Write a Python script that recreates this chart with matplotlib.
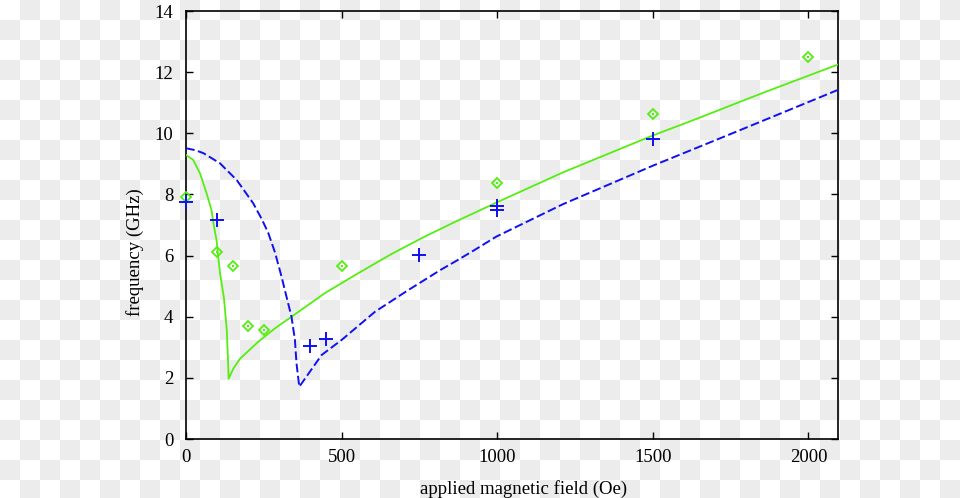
"""
Spin-wave frequency vs applied magnetic field: measured points and model curves.
"""

import numpy as np
import matplotlib
matplotlib.use('Agg')
import matplotlib.pyplot as plt

# model curve 1 (green, solid)
green_line_x = [0, 23, 45, 66, 82, 88, 98, 109, 122, 131, 135, 137,
                152, 173, 232, 286, 339, 446, 553, 660, 767, 864, 1001,
                1211, 1498, 1640, 1853, 2095]
green_line_y = [9.29, 9.13, 8.69, 8.04, 7.49, 7.06, 6.51, 5.45, 4.6, 3.57, 2.58, 1.97,
                2.3, 2.62, 3.18, 3.62, 4.0, 4.77, 5.42, 6.05, 6.62, 7.1, 7.75,
                8.72, 9.92, 10.47, 11.32, 12.25]

# model curve 2 (blue, dashed)
blue_line_x = [0, 29, 56, 109, 163, 216, 243, 264, 286, 307, 323, 339, 350, 355, 364,
               436, 500, 607, 714, 821, 864, 922, 997, 1211, 1500, 1746, 2095]
blue_line_y = [9.51, 9.45, 9.35, 9.02, 8.47, 7.71, 7.2, 6.75, 6.1, 5.31, 4.65, 4.0, 3.24, 2.48, 1.71,
               2.75, 3.24, 4.16, 4.87, 5.55, 5.8, 6.15, 6.62, 7.68, 8.94, 9.96, 11.42]

# measured points
green_pts_x = [0, 100, 150, 200, 250, 500, 1000, 1500, 2000]
green_pts_y = [7.93, 6.12, 5.65, 3.71, 3.57, 5.65, 8.39, 10.64, 12.48]

blue_pts_x = [0, 100, 400, 450, 750, 1000, 1000, 1500]
blue_pts_y = [7.74, 7.16, 3.05, 3.28, 6.03, 7.62, 7.48, 9.8]

x_ticks = [0, 500, 1000, 1500, 2000]
y_ticks = [0, 2, 4, 6, 8, 10, 12, 14]

GREEN = '#55ee11'
BLUE = '#1010f0'

plt.rcParams['font.family'] = ['Liberation Serif', 'DejaVu Serif']

W, H = 960, 498
fig = plt.figure(figsize=(W / 100, H / 100), dpi=100)

# checkerboard backdrop baked into the reference image
rows = np.arange(H)[:, None] // 20
cols = np.arange(W)[None, :] // 20
board = np.where((rows + cols) % 2 == 1, 0.925, 1.0)
fig.figimage(board, xo=0, yo=0, origin='upper', cmap='gray', vmin=0, vmax=1, zorder=-5)

ax = fig.add_axes([186 / W, 59 / H, 652 / W, 428 / H])
ax.set_facecolor('none')

ax.plot(green_line_x, green_line_y, color=GREEN, lw=1.3, zorder=3)
ax.plot(blue_line_x, blue_line_y, color=BLUE, lw=1.4, dashes=(4.5, 1.8), zorder=3)

ax.plot(green_pts_x, green_pts_y, ls='none', marker='D', ms=5.5, mfc='none',
        mec=GREEN, mew=1.3, zorder=4, clip_on=False)
ax.plot(green_pts_x, green_pts_y, ls='none', marker='s', ms=1.6, color=GREEN,
        mew=0, zorder=4, clip_on=False)
ax.plot(blue_pts_x, blue_pts_y, ls='none', marker='+', ms=9.5, mew=1.4,
        color=BLUE, zorder=5, clip_on=False)

ax.set_xlim(0, 2095)
ax.set_ylim(0, 14)
ax.set_xticks(x_ticks)
ax.set_yticks(y_ticks)
ax.tick_params(direction='in', top=True, right=True, length=5, width=1,
               labelsize=13.5, colors='black')
ax.tick_params(axis='x', pad=7)
ax.tick_params(axis='y', pad=9)
for s in ax.spines.values():
    s.set_linewidth(1.2)

ax.set_xlabel('applied magnetic field (Oe)', fontsize=13.5, labelpad=10)
ax.set_ylabel('frequency (GHz)', fontsize=13.5, labelpad=8)
# labels sit a little off-centre in the original
ax.xaxis.label.set_x(0.517)
ax.yaxis.label.set_y(0.437)

fig.savefig('out.png', dpi=100)
plt.close(fig)
